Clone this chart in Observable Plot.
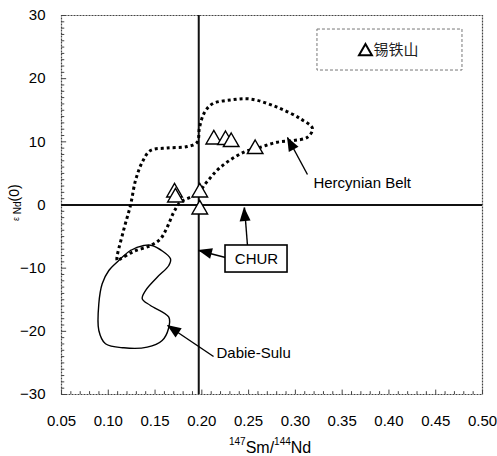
<!DOCTYPE html>
<html>
<head>
<meta charset="utf-8">
<script src="https://cdn.jsdelivr.net/npm/d3@7"></script>
<script src="https://cdn.jsdelivr.net/npm/@observablehq/plot@0.6"></script>
<style>
  html, body { margin: 0; padding: 0; background: white; }
</style>
</head>
<body>
<div id="chart"></div>
<script>
// ---- data ----
const xTicks = [0.05, 0.10, 0.15, 0.20, 0.25, 0.30, 0.35, 0.40, 0.45, 0.50];
const yTicks = [-30, -20, -10, 0, 10, 20, 30];
const xMinor = d3.range(5, 51).map(d => d / 100);
const yMinor = d3.range(-30, 31);

// 锡铁山 samples: 147Sm/144Nd, εNd(0)
const sampleX = [0.2128, 0.2253, 0.2314, 0.2570, 0.1708, 0.1718, 0.1978, 0.1978];
const sampleY = [10.38, 10.29, 9.97, 8.86, 1.98, 1.19, 1.98, -0.71];

// Hercynian Belt field (dotted)
const hercX = [0.1095, 0.1163, 0.1237, 0.1291, 0.1363, 0.1451, 0.1630, 0.1844, 0.1950, 0.1975, 0.2028, 0.2114, 0.2306, 0.2520, 0.2805, 0.3054, 0.3183, 0.3129, 0.2983, 0.2805, 0.2627, 0.2448, 0.2199, 0.2057, 0.1950, 0.1772, 0.1700, 0.1630, 0.1558, 0.1451, 0.1270, 0.1131];
const hercY = [-8.79, -4.04, -0.08, 3.88, 6.78, 8.63, 9.02, 9.26, 9.94, 12.27, 14.64, 16.02, 16.62, 16.78, 15.48, 13.65, 12.11, 10.73, 10.21, 9.94, 9.15, 8.36, 5.98, 3.72, 1.77, 0.44, -1.14, -3.51, -5.35, -6.41, -7.36, -8.52];

// Dabie-Sulu field (solid)
const dabieX = [0.1112, 0.1237, 0.1380, 0.1469, 0.1665, 0.1647, 0.1523, 0.1398, 0.1363, 0.1451, 0.1647, 0.1644, 0.1576, 0.1416, 0.1166, 0.0970, 0.0899, 0.0899, 0.0935, 0.1006];
const dabieY = [-8.79, -7.20, -6.41, -6.41, -8.52, -9.58, -11.43, -13.54, -14.85, -15.91, -17.76, -19.55, -21.45, -22.51, -22.61, -21.97, -19.87, -15.64, -12.47, -10.37];

// CHUR reference
const churX = 0.1967;
const churY = 0;

// annotations
const labelHerc = {t: "Hercynian Belt", x: 0.3193, y: 3.40};
const labelDabie = {t: "Dabie-Sulu", x: 0.2157, y: -23.51};
const labelChur = {t: "CHUR", x: 0.2584, y: -8.55};
const churBox = {x1: 0.2253, x2: 0.2916, y1: -6.41, y2: -10.69};

// arrows: tail -> tip
const arrowX1 = [0.3129, 0.2253, 0.2488, 0.2125];
const arrowY1 = [4.83, -8.31, -6.41, -23.98];
const arrowX2 = [0.2916, 0.1964, 0.2456, 0.1633];
const arrowY2 = [10.69, -7.20, -0.40, -19.08];

// legend
const legendLabel = "锡铁山";
const legendBox = {x1: 0.3236, x2: 0.4786, y1: 27.78, y2: 21.29};
const legendPos = {x: 0.3749, y: 24.46, tx: 0.3835};

// ---- build tables ----
const samples = sampleX.map((x, i) => ({x, y: sampleY[i]}));
const herc = hercX.map((x, i) => ({x, y: hercY[i]}));
const dabie = dabieX.map((x, i) => ({x, y: dabieY[i]}));
const arrows = arrowX1.map((x1, i) => ({x1, y1: arrowY1[i], x2: arrowX2[i], y2: arrowY2[i]}));

const font = "'Liberation Sans', Arial, sans-serif";

const plot = Plot.plot({
  width: 497,
  height: 456,
  marginLeft: 61,
  marginRight: 15,
  marginTop: 15,
  marginBottom: 62,
  style: {fontFamily: font, fontSize: "15px", background: "white", color: "black", overflow: "visible"},
  x: {domain: [0.05, 0.50]},
  y: {domain: [-30, 30]},
  marks: [
    Plot.frame({stroke: "#444", strokeWidth: 1.2, strokeDasharray: "2 1"}),
    // minor inward ticks
    Plot.ruleX(xMinor, {x: d => d, y1: -30, y2: d => (Math.round(d * 100) % 5 === 0 ? -29.3 : -29.55), stroke: "#444", strokeWidth: 1}),
    Plot.ruleY(yMinor, {y: d => d, x1: 0.05, x2: d => (d % 10 === 0 ? 0.0555 : 0.0535), stroke: "#444", strokeWidth: 1}),
    Plot.axisX({ticks: xTicks, tickSize: 0, tickPadding: 21, tickFormat: d => d.toFixed(2), label: null, fontSize: 15}),
    Plot.axisY({ticks: yTicks, tickSize: 0, tickPadding: 16, label: null, fontSize: 15}),
    // CHUR lines
    Plot.ruleX([churX], {stroke: "#111", strokeWidth: 2}),
    Plot.ruleY([churY], {stroke: "#111", strokeWidth: 2}),
    // fields
    Plot.line(dabie, {x: "x", y: "y", curve: "catmull-rom-closed", stroke: "black", strokeWidth: 1.4}),
    Plot.line(herc, {x: "x", y: "y", curve: "catmull-rom-closed", stroke: "black", strokeWidth: 3, strokeDasharray: "3 3", strokeLinecap: "butt"}),
    // samples
    Plot.dot(samples, {x: "x", y: "y", symbol: "triangle", r: 5.8, stroke: "black", strokeWidth: 1.4, fill: "white"}),
    // annotation arrows shafts
    Plot.link(arrows, {x1: "x1", y1: "y1", x2: "x2", y2: "y2", stroke: "black", strokeWidth: 1.4}),
    // CHUR box
    Plot.rect([churBox], {x1: "x1", x2: "x2", y1: "y1", y2: "y2", fill: "white", stroke: "black", strokeWidth: 1.6}),
    Plot.text([labelChur], {x: "x", y: "y", text: "t", textAnchor: "middle", fontSize: 15, fill: "black"}),
    Plot.text([labelHerc, labelDabie], {x: "x", y: "y", text: "t", textAnchor: "start", fontSize: 15, fill: "black"}),
    // legend
    Plot.rect([legendBox], {x1: "x1", x2: "x2", y1: "y1", y2: "y2", fill: "white", stroke: "#777", strokeWidth: 1, strokeDasharray: "3 2"}),
    Plot.dot([legendPos], {x: "x", y: "y", symbol: "triangle", r: 4.8, stroke: "black", strokeWidth: 2, fill: "white", dy: 1}),
    Plot.text([legendPos], {x: "tx", y: "y", text: () => legendLabel, textAnchor: "start", fontSize: 15, fontFamily: "'Noto Sans CJK SC', sans-serif", fill: "#222"})
  ]
});

document.getElementById("chart").appendChild(plot);

// ---- arrowheads (filled) via the plot's own scales ----
const sx = plot.scale("x"), sy = plot.scale("y");
const svg = d3.select(plot.tagName.toLowerCase() === "svg" ? plot : plot.querySelector("svg"));
const headLen = 14, headHalf = 5.5;
const g = svg.append("g");
arrows.forEach(a => {
  const x1 = sx.apply(a.x1), y1 = sy.apply(a.y1), x2 = sx.apply(a.x2), y2 = sy.apply(a.y2);
  const dx = x2 - x1, dy = y2 - y1, L = Math.hypot(dx, dy);
  const ux = dx / L, uy = dy / L;
  const bx = x2 - ux * headLen, by = y2 - uy * headLen;
  const pts = [[x2, y2], [bx - uy * headHalf, by + ux * headHalf], [bx + uy * headHalf, by - ux * headHalf]];
  g.append("polygon").attr("points", pts.map(p => p.join(",")).join(" ")).attr("fill", "black");
});

// ---- axis titles with super/subscripts ----
const xt = svg.append("text")
  .attr("x", sx.apply(0.2735)).attr("y", 453)
  .attr("text-anchor", "middle")
  .attr("font-family", font).attr("font-size", 16).attr("fill", "black");
xt.append("tspan").attr("font-size", 10).attr("dy", -8).text("147");
xt.append("tspan").attr("dy", 8).text("Sm/");
xt.append("tspan").attr("font-size", 10).attr("dy", -8).text("144");
xt.append("tspan").attr("dy", 8).text("Nd");

const yt = svg.append("text")
  .attr("transform", `translate(19, ${sy.apply(0.3)}) rotate(-90)`)
  .attr("text-anchor", "middle")
  .attr("font-family", font).attr("font-size", 14).attr("fill", "black");
yt.append("tspan").attr("font-size", 9).text("ε");
yt.append("tspan").attr("font-size", 10).attr("dy", 2).text(" Nd");
yt.append("tspan").attr("dy", -2).text("(0)");
</script>
</body>
</html>
